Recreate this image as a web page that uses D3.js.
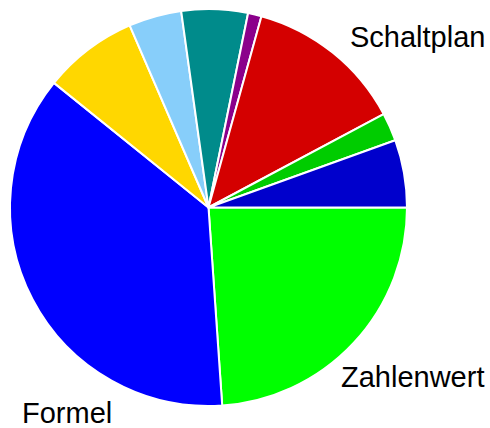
<!DOCTYPE html>
<html><head><meta charset="utf-8">
<script src="https://cdn.jsdelivr.net/npm/d3@7"></script>
<style>html,body{margin:0;padding:0;background:#fff;}svg{display:block;}</style>
</head><body>
<svg id="chart" width="490" height="428"></svg>
<script>
// Data (clockwise from 3 o'clock)
const categories = ["Zahlenwert", "Formel", "", "", "", "", "Schaltplan", "", ""];
const values = [23.9, 36.9, 7.7, 4.3, 5.4, 1.1, 12.9, 2.3, 5.5];
const colors = ["#00ff00", "#0000ff", "#ffd700", "#87cefa", "#008b8b", "#8b008b", "#d40000", "#00cc00", "#0000cc"];

const W = 490, H = 428;
const cx = 208.5, cy = 207.5, R = 198.5;
const svg = d3.select("#chart");
const g = svg.append("g").attr("transform", `translate(${cx},${cy})`);

const pie = d3.pie().sort(null).value(d => d)
  .startAngle(Math.PI / 2).endAngle(Math.PI / 2 + 2 * Math.PI);
const arcs = pie(values);
const arc = d3.arc().innerRadius(0).outerRadius(R);

g.selectAll("path").data(arcs).join("path")
  .attr("d", arc)
  .attr("fill", (d, i) => colors[i])
  .attr("stroke", "#fff")
  .attr("stroke-width", 2)
  .attr("stroke-linejoin", "round");

// Label placement (annotation layout, text start x / baseline y in page coords)
const labelPos = {"Schaltplan": [350, 47], "Zahlenwert": [341, 387], "Formel": [22, 423]};
svg.selectAll("text.lbl").data(arcs.filter((d, i) => categories[i])).join("text")
  .attr("class", "lbl")
  .attr("x", d => labelPos[categories[d.index]][0])
  .attr("y", d => labelPos[categories[d.index]][1])
  .attr("font-family", "Liberation Sans, Arial, sans-serif")
  .attr("font-size", 29)
  .attr("fill", "#000")
  .text(d => categories[d.index]);
</script>
</body></html>
